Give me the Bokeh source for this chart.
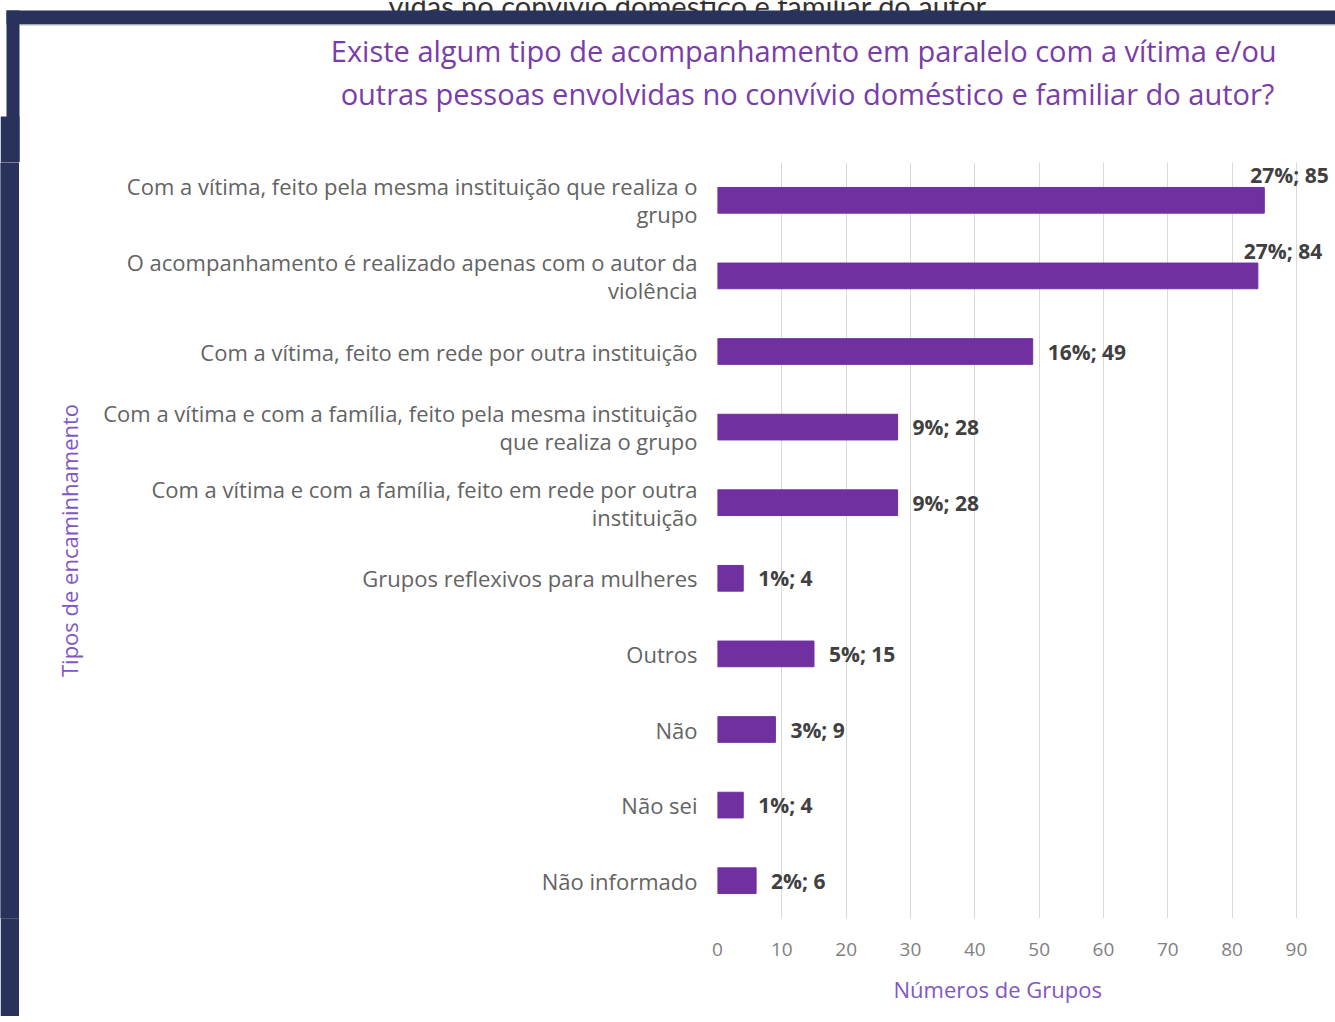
from bokeh.plotting import figure
from bokeh.models import (ColumnDataSource, LabelSet, FixedTicker, FactorRange, Range1d, Title)
from bokeh.core.properties import value
from bokeh.layouts import row, column
from bokeh.embed import file_html
from bokeh.resources import INLINE

# ---- data ----
categories = [
    "Com a vítima, feito pela mesma instituição que realiza o\ngrupo",
    "O acompanhamento é realizado apenas com o autor da\nviolência",
    "Com a vítima, feito em rede por outra instituição",
    "Com a vítima e com a família, feito pela mesma instituição\nque realiza o grupo",
    "Com a vítima e com a família, feito em rede por outra\ninstituição",
    "Grupos reflexivos para mulheres",
    "Outros",
    "Não",
    "Não sei",
    "Não informado",
]
counts = [85, 84, 49, 28, 28, 4, 15, 9, 4, 6]
percents = ["27%", "27%", "16%", "9%", "9%", "1%", "5%", "3%", "1%", "2%"]
x_ticks = [0, 10, 20, 30, 40, 50, 60, 70, 80, 90]

title_lines = [
    "Existe algum tipo de acompanhamento  em paralelo com a vítima e/ou",
    "outras pessoas envolvidas no convívio doméstico e familiar do autor?",
]
top_caption = "vidas no convívio doméstico e familiar do autor."
x_title = "Números de Grupos"
y_title = "Tipos de encaminhamento"

# ---- styling constants ----
BAR = "#7030A0"
NAVY = "#28325a"
TITLE_C = "#7a3caa"
AXIS_T = "#8257c4"

W_TOTAL, H_TOTAL = 1335, 1022
STRIP_W = 19
TOP_H = 162
BOT_H = 6
MAIN_W = W_TOTAL - STRIP_W
MAIN_H = H_TOTAL - TOP_H - BOT_H


def bare(width, height, xr, yr, fill="white", border="white"):
    f = figure(width=width, height=height, x_range=xr, y_range=yr,
               output_backend="svg", toolbar_location=None,
               min_border=0, min_border_left=0, min_border_right=0,
               min_border_top=0, min_border_bottom=0)
    f.title = None
    f.axis.visible = False
    f.grid.visible = False
    f.outline_line_color = None
    f.background_fill_color = fill
    f.border_fill_color = border
    return f


# ---- top block: caption, frame border and chart title (page coordinates) ----
top = bare(W_TOTAL, TOP_H, Range1d(0, W_TOTAL), Range1d(TOP_H, 0))
top.text(x=[690], y=[5], text=[top_caption], text_font=value("Lato"),
         text_font_size="29px", text_color="#333333", text_align="center",
         text_baseline="alphabetic")
top.quad(left=[6, 6, 0], right=[W_TOTAL, STRIP_W, STRIP_W], top=[10, 10, 116],
         bottom=[24, TOP_H + 2, TOP_H + 2], fill_color=NAVY, line_color=None)
top.segment(x0=[STRIP_W], x1=[W_TOTAL], y0=[24.5], y1=[24.5],
            line_color="#b5bccd", line_width=1)
top.text(x=[807, 807], y=[50, 93], text=title_lines, text_font=value("Open Sans"),
         text_font_size="29px", text_color=TITLE_C, text_align="center",
         text_baseline="middle")

# ---- left navy strip ----
left = bare(STRIP_W, MAIN_H, Range1d(0, STRIP_W), Range1d(1, 0), fill=NAVY, border=NAVY)
left.quad(left=[0], right=[STRIP_W], top=[0], bottom=[1], fill_color=NAVY, line_color=None)

# ---- main chart ----
labels_txt = [f"{pc}; {c}" for pc, c in zip(percents, counts)]
near_end = [c > 80 for c in counts]

src_all = ColumnDataSource(dict(cat=categories, count=counts))
src_out = ColumnDataSource(dict(
    cat=[c for c, n in zip(categories, near_end) if not n],
    count=[v for v, n in zip(counts, near_end) if not n],
    lab=[t for t, n in zip(labels_txt, near_end) if not n]))
src_top = ColumnDataSource(dict(
    cat=[c for c, n in zip(categories, near_end) if n],
    count=[v for v, n in zip(counts, near_end) if n],
    lab=[t for t, n in zip(labels_txt, near_end) if n]))

p = figure(width=MAIN_W, height=MAIN_H,
           y_range=FactorRange(*reversed(categories)),
           x_range=Range1d(0, 96.07),
           output_backend="svg", toolbar_location=None,
           min_border_left=698, min_border_right=0,
           min_border_top=0, min_border_bottom=96)
p.title = None
p.outline_line_color = None
p.background_fill_color = "white"
p.border_fill_color = "white"

p.hbar(y="cat", left=0, right="count", height=0.34, source=src_all,
       fill_color=BAR, line_color=BAR)

xa = p.xaxis[0]
xa.ticker = FixedTicker(ticks=x_ticks)
xa.axis_line_color = None
xa.major_tick_line_color = None
xa.major_tick_out = 0
xa.major_tick_in = 0
xa.minor_tick_line_color = None
xa.major_label_text_color = "#808080"
xa.major_label_text_font = "Open Sans"
xa.major_label_text_font_size = "19px"
xa.major_label_standoff = 24

# x-axis title, placed under the tick labels (left-anchored like the reference)
p.add_layout(Title(text=x_title, align="left", offset=176, standoff=26,
                   text_color=AXIS_T, text_font="Open Sans",
                   text_font_style="normal", text_font_size="22px"), "below")

ya = p.yaxis[0]
ya.axis_line_color = None
ya.major_tick_line_color = None
ya.major_tick_out = 0
ya.major_tick_in = 0
ya.minor_tick_line_color = None
ya.major_label_text_color = "#636363"
ya.major_label_text_font = "Open Sans"
ya.major_label_text_font_size = "22px"
ya.major_label_text_line_height = 0.94
ya.major_label_standoff = 20
ya.axis_label = y_title
ya.axis_label_text_color = AXIS_T
ya.axis_label_text_font = "Open Sans"
ya.axis_label_text_font_style = "normal"
ya.axis_label_text_font_size = "22px"
ya.axis_label_standoff = 16

p.xgrid.ticker = FixedTicker(ticks=x_ticks)
p.xgrid.grid_line_color = "#d9d9d9"
p.ygrid.grid_line_color = None

lab_kw = dict(text="lab", text_color="#404040", text_font=value("Open Sans"),
              text_font_size="21px", text_font_style="bold", text_align="left")
p.add_layout(LabelSet(x="count", y="cat", source=src_out, x_offset=15,
                      text_baseline="middle", **lab_kw))
p.add_layout(LabelSet(x="count", y="cat", source=src_top, x_offset=-14,
                      y_offset=25, text_baseline="middle", **lab_kw))

# ---- bottom navy strip ----
bottom = bare(W_TOTAL, BOT_H, Range1d(0, W_TOTAL), Range1d(0, 1), fill=NAVY, border=NAVY)
bottom.quad(left=[6], right=[W_TOTAL], top=[1], bottom=[0], fill_color=NAVY, line_color=None)

layout = column(top, row(left, p), bottom)
open("out.html", "w").write(file_html(layout, INLINE))
